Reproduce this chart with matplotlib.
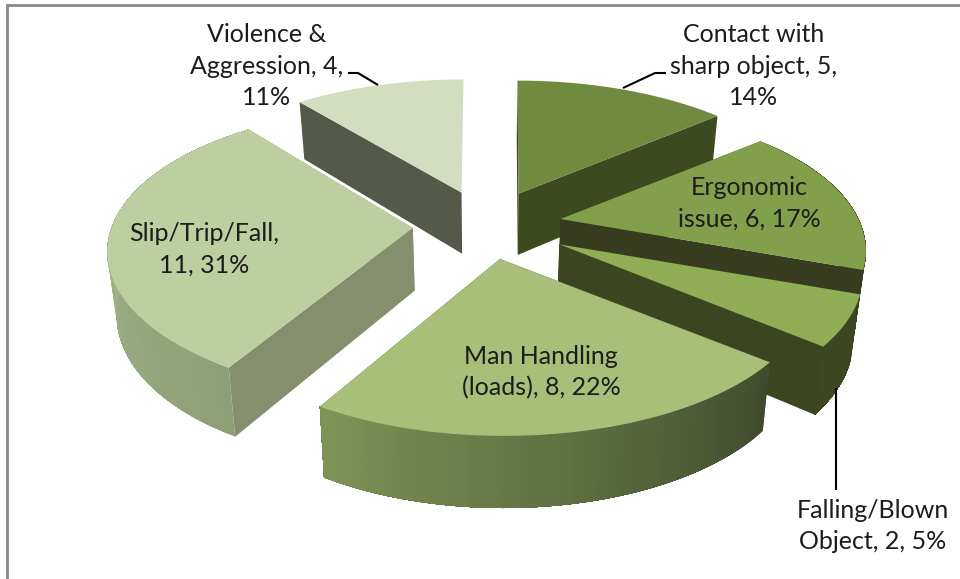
import numpy as np
import matplotlib
matplotlib.use('Agg')
import matplotlib.pyplot as plt
from matplotlib.colors import to_rgb

# Data
labels = ['Contact with\nsharp object, {v},\n{p}%',
          'Ergonomic\nissue, {v}, {p}%',
          'Falling/Blown\nObject, {v}, {p}%',
          'Man Handling\n(loads), {v}, {p}%',
          'Slip/Trip/Fall,\n{v}, {p}%',
          'Violence &\nAggression, {v},\n{p}%']
values = [5, 6, 2, 8, 11, 4]
percents = [14, 17, 5, 22, 31, 11]

# Colours per slice
top_colors = ['#708A3F', '#829F4B', '#8FAE55', '#A7BF78', '#BDCEA0', '#D3DDC0']
face_colors = ['#3D4A20', '#373C1E', '#3B4621', '#404B2D', '#858F6E', '#55594A']
rim_start = ['#3D4A20', '#373C1E', '#3A4520', '#404B2D', '#8E9E76', '#55594A']
rim_end = ['#3D4A20', '#373C1E', '#3D4822', '#7D9456', '#B5C49A', '#55594A']

# Label centres in pixels
label_pos = [(754, 66), (749, 203), (873, 526), (541, 372), (204, 249), (267, 66)]

# Projection of the pie, in pixels
cx, cy = 487, 225
rx, ry = 298, 138
persp = 0.22
explode = [0.25, 0.25, 0.28, 0.25, 0.25, 0.25]
rim_shift = [(-1, 0), (0, 0), (-2, -1), (4, 0), (0, -8), (2, 0)]
draw_order = [5, 0, 1, 2, 4, 3]
# the two back slices turn their rim away from the viewer
has_rim = [False, True, True, True, True, False]


def radial(theta):
    # vector from the tip of a slice to its rim, theta clockwise from the top
    u, v = np.sin(theta), np.cos(theta)
    return rx * u / (1 + persp * v), -ry * v / (1 + persp * v)


def lower(x, y):
    # same point on the underside of the pie
    return x + (cx - x) * 0.025, y + 52.5 + 0.045 * y


fig = plt.figure(figsize=(9.6, 5.79), dpi=100)
ax = fig.add_axes([0, 0, 1, 1])
ax.set_xlim(0, 960)
ax.set_ylim(579, 0)
ax.axis('off')

edges = np.radians(np.concatenate([[0], np.cumsum(values)]) * 360 / sum(values))

for i in draw_order:
    start, end = edges[i], edges[i + 1]
    mid = (start + end) / 2
    tip_x = cx + explode[i] * rx * np.sin(mid)
    tip_y = cy - explode[i] * ry * np.cos(mid)
    thetas = np.linspace(start, end, 60)
    dx, dy = radial(thetas)
    xs, ys = tip_x + dx + rim_shift[i][0], tip_y + dy + rim_shift[i][1]
    xb, yb = lower(xs, ys)
    tip_bx, tip_by = lower(tip_x, tip_y)

    # the cut faces, Violence only shows its first one
    for k in ((0,) if i == 5 else (0, -1)):
        ax.fill([tip_x, xs[k], xb[k], tip_bx], [tip_y, ys[k], yb[k], tip_by],
                color=face_colors[i], lw=0)

    # outer rim, each strip painted over the rest of the rim so no seams show
    if has_rim[i]:
        c0, c1 = np.array(to_rgb(rim_start[i])), np.array(to_rgb(rim_end[i]))
        for k in range(len(thetas) - 1):
            col = c0 + (c1 - c0) * k / (len(thetas) - 2)
            ax.fill(np.r_[xs[k:], xb[k:][::-1]], np.r_[ys[k:], yb[k:][::-1]],
                    color=col, lw=0)

    # top of the slice
    ax.fill(np.r_[tip_x, xs], np.r_[tip_y, ys], color=top_colors[i], lw=0)

# Leader lines
ax.plot([623, 655, 666], [88, 73, 73], color='black', lw=1.5, solid_capstyle='butt')
ax.plot([348, 358, 378], [73, 73, 85], color='black', lw=1.5, solid_capstyle='butt')
ax.plot([836, 836], [388, 490], color='black', lw=1.5, solid_capstyle='butt')

# Data labels
for lab, v, p, (x, y) in zip(labels, values, percents, label_pos):
    ax.text(x, y, lab.format(v=v, p=p), ha='center', va='center', fontsize=18,
            family='Lato', color='#1c1c1c', linespacing=1.45)

# Chart border, only the top and left sides are in the crop
ax.plot([7, 7, 960], [579, 5, 5], color='#888888', lw=2, solid_joinstyle='miter')

fig.savefig('out.png', dpi=100)
